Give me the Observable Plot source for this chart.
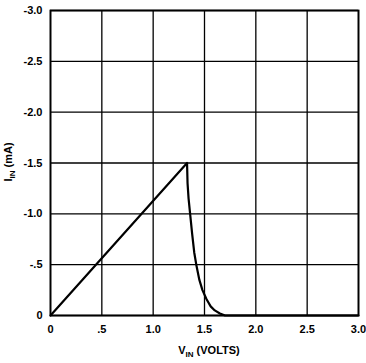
<!DOCTYPE html>
<html>
<head>
<meta charset="utf-8">
<script src="https://cdn.jsdelivr.net/npm/d3@7"></script>
<script src="https://cdn.jsdelivr.net/npm/@observablehq/plot@0.6"></script>
<style>
  html, body { margin: 0; padding: 0; background: #fff; }
  svg { font-family: "Liberation Sans", Arial, sans-serif; }
</style>
</head>
<body>
<div id="chart"></div>
<script>
// Curve data: V_IN (volts) vs I_IN (mA)
const vin = [0, 1.33, 1.335, 1.345, 1.36, 1.38, 1.40, 1.42, 1.45, 1.48, 1.52, 1.56, 1.60, 1.65, 1.70, 2.0, 2.5, 3.0];
const iin = [0, -1.5, -1.3, -1.15, -1.0, -0.8, -0.62, -0.5, -0.35, -0.25, -0.16, -0.09, -0.05, -0.02, 0, 0, 0, 0];

const xTicks = [0, 0.5, 1.0, 1.5, 2.0, 2.5, 3.0];
const xTickLabels = ["0", ".5", "1.0", "1.5", "2.0", "2.5", "3.0"];
const yTicks = [0, -0.5, -1.0, -1.5, -2.0, -2.5, -3.0];
const yTickLabels = ["0", "-.5", "-1.0", "-1.5", "-2.0", "-2.5", "-3.0"];

const data = vin.map((v, i) => ({v, i: iin[i]}));

const chart = Plot.plot({
  width: 366,
  height: 363,
  marginLeft: 50,
  marginRight: 8,
  marginTop: 10,
  marginBottom: 48,
  style: {fontSize: "11px", fontWeight: "bold", color: "#000", background: "#fff"},
  x: {domain: [0, 3], ticks: xTicks, tickFormat: (d, k) => xTickLabels[k], tickSize: 0, tickPadding: 10, label: null},
  y: {domain: [0, -3], ticks: yTicks, tickFormat: (d, k) => yTickLabels[k], tickSize: 0, tickPadding: 8, label: null},
  marks: [
    Plot.gridX(xTicks, {stroke: "#000", strokeOpacity: 1, strokeWidth: 1.3}),
    Plot.gridY(yTicks, {stroke: "#000", strokeOpacity: 1, strokeWidth: 1.3}),
    Plot.frame({stroke: "#000", strokeWidth: 1.8}),
    Plot.line(data, {x: "v", y: "i", stroke: "#000", strokeWidth: 2.2, curve: "linear"})
  ]
});

const svg = d3.select(chart);
// X axis label: V_IN (VOLTS)
const xl = svg.append("text")
  .attr("x", 209).attr("y", 354)
  .attr("text-anchor", "middle")
  .attr("font-size", 11).attr("font-weight", "bold").attr("fill", "#000");
xl.append("tspan").text("V");
xl.append("tspan").attr("font-size", 8).attr("dy", 3).text("IN");
xl.append("tspan").attr("dy", -3).text(" (VOLTS)");

// Y axis label: I_IN (mA)
const yl = svg.append("text")
  .attr("transform", "translate(12,162) rotate(-90)")
  .attr("text-anchor", "middle")
  .attr("font-size", 11).attr("font-weight", "bold").attr("fill", "#000");
yl.append("tspan").text("I");
yl.append("tspan").attr("font-size", 8).attr("dy", 3).text("IN");
yl.append("tspan").attr("dy", -3).text(" (mA)");

document.getElementById("chart").appendChild(chart);
</script>
</body>
</html>
